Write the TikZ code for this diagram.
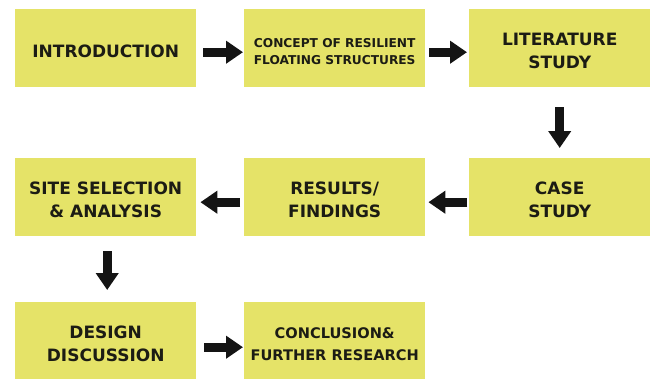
\documentclass[tikz,border=0pt]{standalone}
\usepackage{fontspec}
\setmainfont{DejaVu Sans}
\usetikzlibrary{arrows.meta}
\definecolor{boxyellow}{RGB}{229,227,104}
\definecolor{txtdark}{RGB}{28,28,20}
\tikzset{
  stagebox/.style={fill=boxyellow, draw=none, inner sep=0pt, anchor=north west,
    minimum width=181pt, minimum height=78pt},
  stagetext/.style={align=center, text=txtdark, inner sep=0pt, yshift=-3pt,
    font=\fontsize{17pt}{23pt}\selectfont\bfseries},
  smalltext/.style={font=\fontsize{12.2pt}{17pt}\selectfont\bfseries},
  midtext/.style={font=\fontsize{14.6pt}{22pt}\selectfont\bfseries},
  blockarrow/.style={line width=9pt, black!92, -{Triangle[length=17pt,width=22pt]}},
}
\begin{document}
\begin{tikzpicture}[x=1pt,y=-1pt]
\useasboundingbox (0,0) rectangle (652,378);
% row 1
\node[stagebox, label={[stagetext]center:INTRODUCTION}] (intro) at (15,9) {};
\node[stagebox, label={[stagetext, smalltext]center:CONCEPT OF RESILIENT\\FLOATING STRUCTURES}] (concept) at (244,9) {};
\node[stagebox, label={[stagetext]center:LITERATURE\\STUDY}] (lit) at (469,9) {};
% row 2
\node[stagebox, label={[stagetext]center:SITE SELECTION\\\& ANALYSIS}] (site) at (15,158) {};
\node[stagebox, label={[stagetext]center:RESULTS/\\FINDINGS}] (results) at (244,158) {};
\node[stagebox, label={[stagetext]center:CASE\\STUDY}] (case) at (469,158) {};
% row 3
\node[stagebox, minimum height=78pt, label={[stagetext]center:DESIGN\\DISCUSSION}] (design) at (15,302) {};
\node[stagebox, minimum height=78pt, label={[stagetext, midtext]center:CONCLUSION\&\\FURTHER RESEARCH}] (concl) at (244,302) {};
% arrows
\draw[blockarrow, shorten <=7pt, shorten >=1pt] ([yshift=-4pt]intro.east) -- ([yshift=-4pt]concept.west);
\draw[blockarrow, shorten <=4pt, shorten >=2pt] ([yshift=-4pt]concept.east) -- ([yshift=-4pt]lit.west);
\draw[blockarrow, shorten <=20pt, shorten >=10pt] (lit.south) -- (case.north);
\draw[blockarrow, shorten <=2pt, shorten >=3pt] ([yshift=-5pt]case.west) -- ([yshift=-5pt]results.east);
\draw[blockarrow, shorten <=4pt, shorten >=4pt] ([yshift=-5pt]results.west) -- ([yshift=-5pt]site.east);
\draw[blockarrow, shorten <=15pt, shorten >=12pt] ([xshift=1.5pt]site.south) -- ([xshift=1.5pt]design.north);
\draw[blockarrow, shorten <=8pt, shorten >=1pt] ([yshift=-6pt]design.east) -- ([yshift=-6pt]concl.west);
\end{tikzpicture}
\end{document}
